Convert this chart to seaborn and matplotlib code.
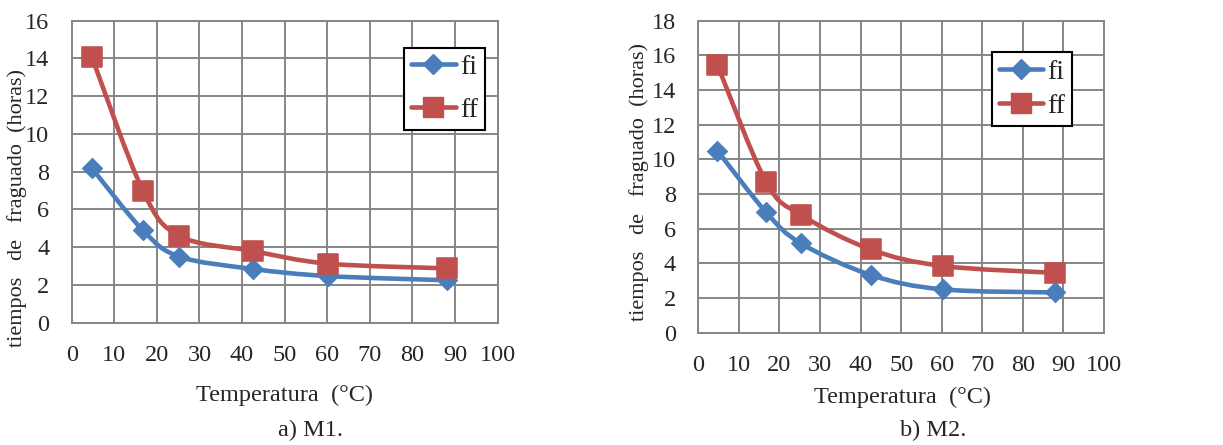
"""
Setting time vs temperature, mixes M1 and M2
"""
import numpy as np
import pandas as pd
import matplotlib
matplotlib.use("Agg")
import matplotlib.pyplot as plt
from matplotlib.path import Path
from matplotlib.patches import PathPatch
from matplotlib.lines import Line2D
import seaborn as sns

sns.set_style("whitegrid")
plt.rcParams["font.family"] = ["Liberation Serif", "DejaVu Serif"]

temperatura = [4.7, 16.7, 25.3, 42.5, 60.2, 88.0]
m1_fi = [8.2, 4.9, 3.5, 2.85, 2.47, 2.25]
m1_ff = [14.1, 7.0, 4.6, 3.8, 3.13, 2.88]
m2_fi = [10.5, 6.95, 5.15, 3.33, 2.5, 2.32]
m2_ff = [15.45, 8.7, 6.8, 4.8, 3.85, 3.45]

BLUE = "#4a7ebb"
RED = "#c0504d"
GRID = "#868686"


def smooth_path(x, y):
    # Excel style smoothed line: cubic bezier with catmull-rom control points
    p = np.column_stack([x, y])
    ext = np.vstack([p[0], p, p[-1]])
    verts = [p[0]]
    codes = [Path.MOVETO]
    for i in range(1, len(ext) - 2):
        c1 = ext[i] + (ext[i + 1] - ext[i - 1]) / 6
        c2 = ext[i + 1] - (ext[i + 2] - ext[i]) / 6
        verts += [c1, c2, ext[i + 1]]
        codes += [Path.CURVE4] * 3
    return Path(verts, codes)


def panel(ax, fi, ff, ymax, legend_box, spacing):
    for vals, col in [(fi, BLUE), (ff, RED)]:
        ax.add_patch(PathPatch(smooth_path(temperatura, vals), fill=False,
                               edgecolor=col, lw=3.3, capstyle="round", zorder=3))
    df = pd.DataFrame({"T": temperatura * 2, "t": fi + ff,
                       "serie": ["fi"] * len(fi) + ["ff"] * len(ff)})
    sns.scatterplot(data=df[df.serie == "fi"], x="T", y="t", marker="D", s=105,
                    color=BLUE, edgecolor=BLUE, ax=ax, zorder=4, legend=False)
    sns.scatterplot(data=df[df.serie == "ff"], x="T", y="t", marker="s", s=205,
                    color=RED, edgecolor=RED, ax=ax, zorder=4, legend=False)
    ax.set_xlim(0, 100)
    ax.set_ylim(0, ymax)
    ax.set_xticks(range(0, 101, 10))
    ax.set_yticks(range(0, ymax + 1, 2))
    ax.grid(True, color=GRID, lw=1.4)
    for s in ax.spines.values():
        s.set_visible(True)
        s.set_color(GRID)
        s.set_linewidth(1.4)
    ax.tick_params(axis="both", labelsize=17.5, length=5, width=1.4, color=GRID,
                   direction="out")
    ax.tick_params(axis="x", pad=11)
    ax.tick_params(axis="y", pad=11)
    ax.set_xlabel("")
    ax.set_ylabel("")
    handles = [Line2D([], [], color=BLUE, lw=3.3, marker="D", markersize=10.5),
               Line2D([], [], color=RED, lw=3.3, marker="s", markersize=14)]
    leg = ax.legend(handles, ["fi", "ff"], loc="upper left", bbox_to_anchor=legend_box,
                    fontsize=20, frameon=True, fancybox=False, framealpha=1,
                    edgecolor="black", handlelength=1.6, handletextpad=0.15,
                    labelspacing=spacing, borderpad=0.25, borderaxespad=0)
    leg.get_frame().set_linewidth(1.5)


fig = plt.figure(figsize=(12.23, 4.45), dpi=100)
ax1 = fig.add_axes([0.0586, 0.2748, 0.3483, 0.6787])
ax2 = fig.add_axes([0.5710, 0.2524, 0.3317, 0.7011])

panel(ax1, m1_fi, m1_ff, 16, (0.7805, 0.9105), 0.62)
panel(ax2, m2_fi, m2_ff, 18, (0.7235, 0.8985), 0.32)

ylab = "tiempos   de   fraguado  (horas)"
fig.text(17 / 1223, 1 - 208 / 445, ylab, rotation=90, ha="center", va="center", fontsize=16)
fig.text(639 / 1223, 1 - 182 / 445, ylab, rotation=90, ha="center", va="center", fontsize=16)
fig.text(285 / 1223, 1 - 395 / 445, "Temperatura  (°C)", ha="center", va="center", fontsize=17.5)
fig.text(903 / 1223, 1 - 397 / 445, "Temperatura  (°C)", ha="center", va="center", fontsize=17.5)
fig.text(311 / 1223, 1 - 430 / 445, "a) M1.", ha="center", va="center", fontsize=17.5)
fig.text(933 / 1223, 1 - 430 / 445, "b) M2.", ha="center", va="center", fontsize=17.5)

fig.savefig("out.png", dpi=100)
